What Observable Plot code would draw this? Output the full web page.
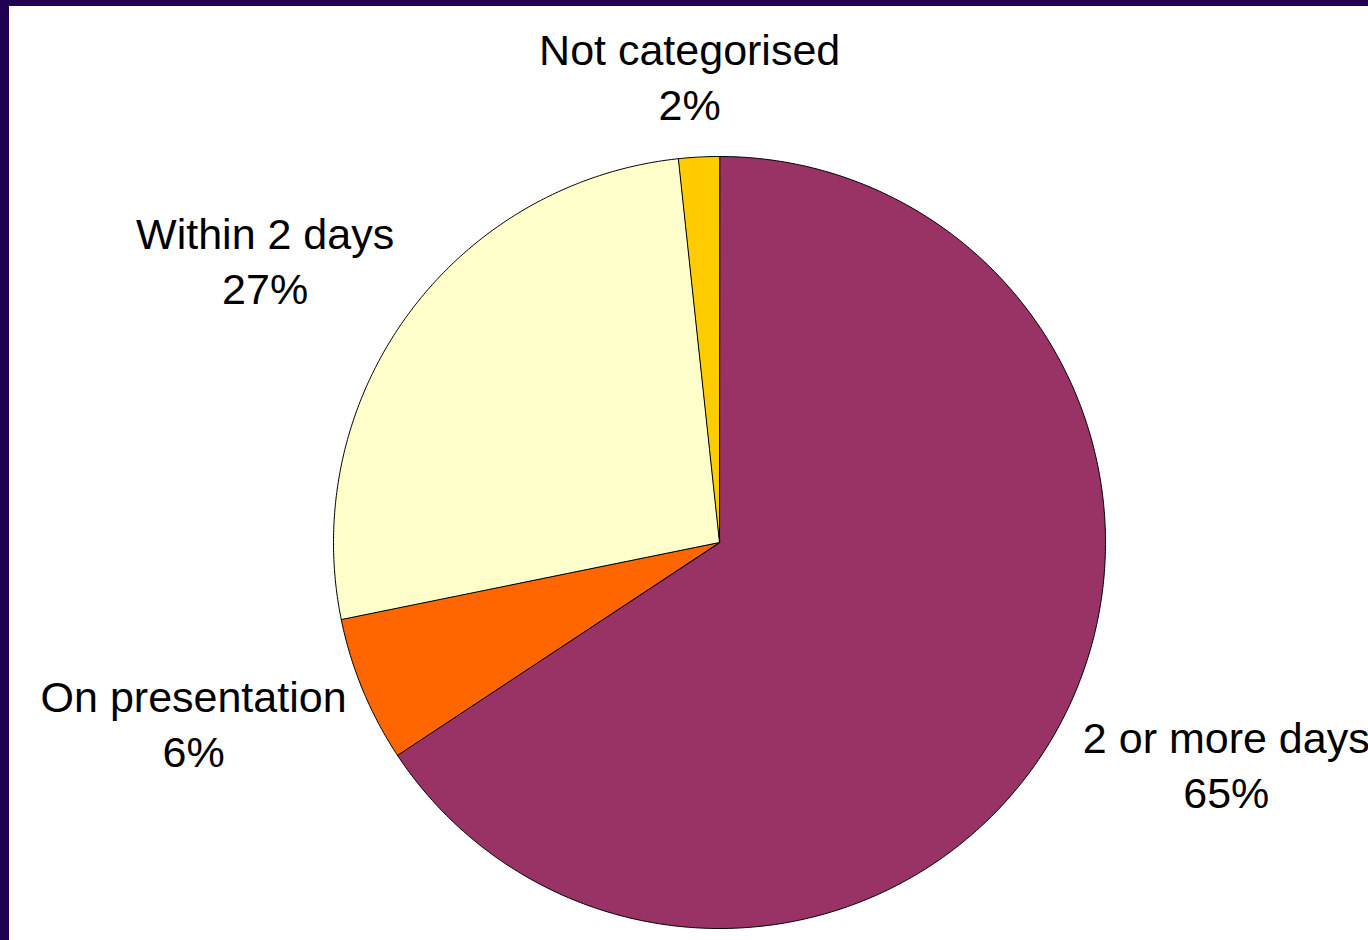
<!DOCTYPE html>
<html>
<head>
<meta charset="utf-8">
<script src="https://cdn.jsdelivr.net/npm/d3@7"></script>
<script src="https://cdn.jsdelivr.net/npm/@observablehq/plot@0.6"></script>
<style>
  html, body { margin: 0; padding: 0; background: #ffffff; overflow: hidden; }
  #wrap { position: relative; width: 1368px; height: 940px; }
  #wrap svg { position: absolute; left: 0; top: 0; }
  .edge { position: absolute; background: #200050; pointer-events: none; }
</style>
</head>
<body>
<div id="wrap">
  <div id="chart"></div>
  <div class="edge" style="left:0;top:0;width:9px;height:940px;"></div>
  <div class="edge" style="left:0;top:0;width:1368px;height:6px;"></div>
</div>
<script>
// ---- data ----
const categories = ["2 or more days", "On presentation", "Within 2 days", "Not categorised"];
const shares = [65.7, 6.1, 26.5, 1.7];
const percentLabels = ["65%", "6%", "27%", "2%"];

// ---- style ----
const colors = ["#993366", "#FF6600", "#FFFFCC", "#FFCC00"];
const W = 1368, H = 940;
const cx = 719, cy = 542, R = 386;
const fontSize = 43, lineGap = 55, labelGap = 22;
const fontFamily = "'Liberation Sans', Arial, sans-serif";

// ---- geometry (data space: unit circle, y up, angles clockwise from north) ----
const total = d3.sum(shares);
const polys = [];
const labels = [];
let acc = 0;
const ctx = document.createElement("canvas").getContext("2d");
ctx.font = `${fontSize}px ${fontFamily}`;
categories.forEach((name, i) => {
  const a0 = acc / total * 2 * Math.PI;
  acc += shares[i];
  const a1 = acc / total * 2 * Math.PI;
  const n = Math.max(2, Math.ceil((a1 - a0) / (Math.PI / 360)));
  polys.push({name, x: 0, y: 0});
  for (let k = 0; k <= n; k++) {
    const a = a0 + (a1 - a0) * k / n;
    polys.push({name, x: Math.sin(a), y: Math.cos(a)});
  }
  const am = (a0 + a1) / 2;
  const ux = Math.sin(am), uy = Math.cos(am);
  const text = name + "\n" + percentLabels[i];
  const w = Math.max(ctx.measureText(name).width, ctx.measureText(percentLabels[i]).width);
  const sx = Math.max(-1, Math.min(1, ux * 1.5));
  const sy = Math.sign(uy) * Math.pow(Math.abs(uy), 0.7);
  labels.push({
    text,
    x: ((R + labelGap) * ux + sx * w / 2 + 4) / R,
    y: ((R + labelGap) * uy + sy * lineGap + 5) / R
  });
});

const chart = Plot.plot({
  width: W,
  height: H,
  margin: 0,
  style: {background: "transparent", overflow: "visible"},
  x: {domain: [-1, 1], range: [cx - R, cx + R], axis: null},
  y: {domain: [-1, 1], range: [cy + R, cy - R], axis: null},
  color: {type: "ordinal", domain: categories, range: colors},
  marks: [
    Plot.line(polys, {x: "x", y: "y", z: "name", fill: "name", stroke: "#000000", strokeWidth: 1, curve: "linear-closed", strokeLinejoin: "round"}),
    Plot.text(labels, {x: "x", y: "y", text: "text", fontSize, lineHeight: lineGap / fontSize, fontFamily, fill: "#000000", textAnchor: "middle"})
  ]
});
document.getElementById("chart").appendChild(chart);
</script>
</body>
</html>
